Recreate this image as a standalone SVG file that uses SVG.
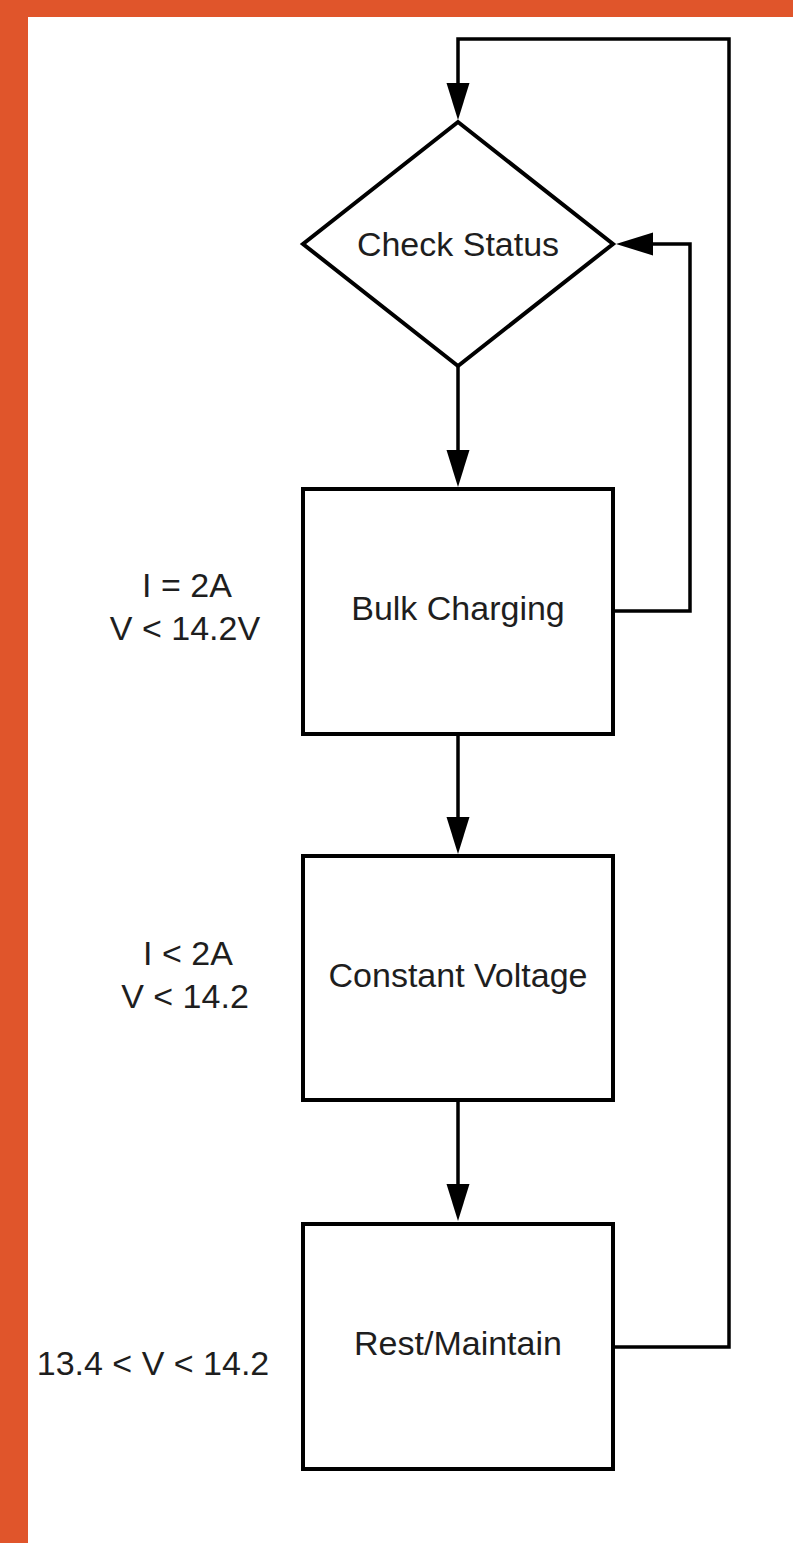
<svg xmlns="http://www.w3.org/2000/svg" width="793" height="1543" viewBox="0 0 793 1543">
<style>
.shape{fill:#ffffff;stroke:#000000;stroke-width:4}
.conn{fill:none;stroke:#000000;stroke-width:3.5;marker-end:url(#arr)}
.lbl{font-family:"Liberation Sans",Arial,sans-serif;font-size:34px;fill:#1e1e1e;text-anchor:middle}
.side{font-family:"Liberation Sans",Arial,sans-serif;font-size:34px;fill:#1e1e1e;text-anchor:middle}
</style>
<defs>
<marker id="arr" markerUnits="userSpaceOnUse" markerWidth="40" markerHeight="24" refX="1" refY="12" orient="auto" viewBox="0 0 40 24">
<path d="M0,0.5 L37,12 L0,23.5 z" fill="#000000"/>
</marker>
</defs>
<rect x="0" y="0" width="793" height="1543" fill="#ffffff"/>
<rect x="0" y="0" width="793" height="17" fill="#E0552B"/>
<rect x="0" y="0" width="28" height="1543" fill="#E0552B"/>
<g id="connectors">
<path class="conn" d="M458 366 V451"/>
<path class="conn" d="M458 734 V818"/>
<path class="conn" d="M458 1100 V1185"/>
<path class="conn" d="M613 611 H690 V244 H652"/>
<path class="conn" d="M613 1347 H729 V39 H458 V84"/>
</g>
<g id="check-status">
<polygon class="shape" points="458,122 613,244 458,366 303,244"/>
<text class="lbl" x="458" y="256">Check Status</text>
</g>
<g id="bulk-charging">
<rect class="shape" x="303" y="489" width="310" height="245"/>
<text class="lbl" x="458" y="620">Bulk Charging</text>
</g>
<g id="constant-voltage">
<rect class="shape" x="303" y="856" width="310" height="244"/>
<text class="lbl" x="458" y="987">Constant Voltage</text>
</g>
<g id="rest-maintain">
<rect class="shape" x="303" y="1224" width="310" height="245"/>
<text class="lbl" x="458" y="1355">Rest/Maintain</text>
</g>
<g id="labels">
<text class="side" x="187" y="597">I = 2A</text>
<text class="side" x="185" y="640">V &lt; 14.2V</text>
<text class="side" x="188" y="965">I &lt; 2A</text>
<text class="side" x="185" y="1008">V &lt; 14.2</text>
<text class="side" x="153" y="1375">13.4 &lt; V &lt; 14.2</text>
</g>
</svg>
